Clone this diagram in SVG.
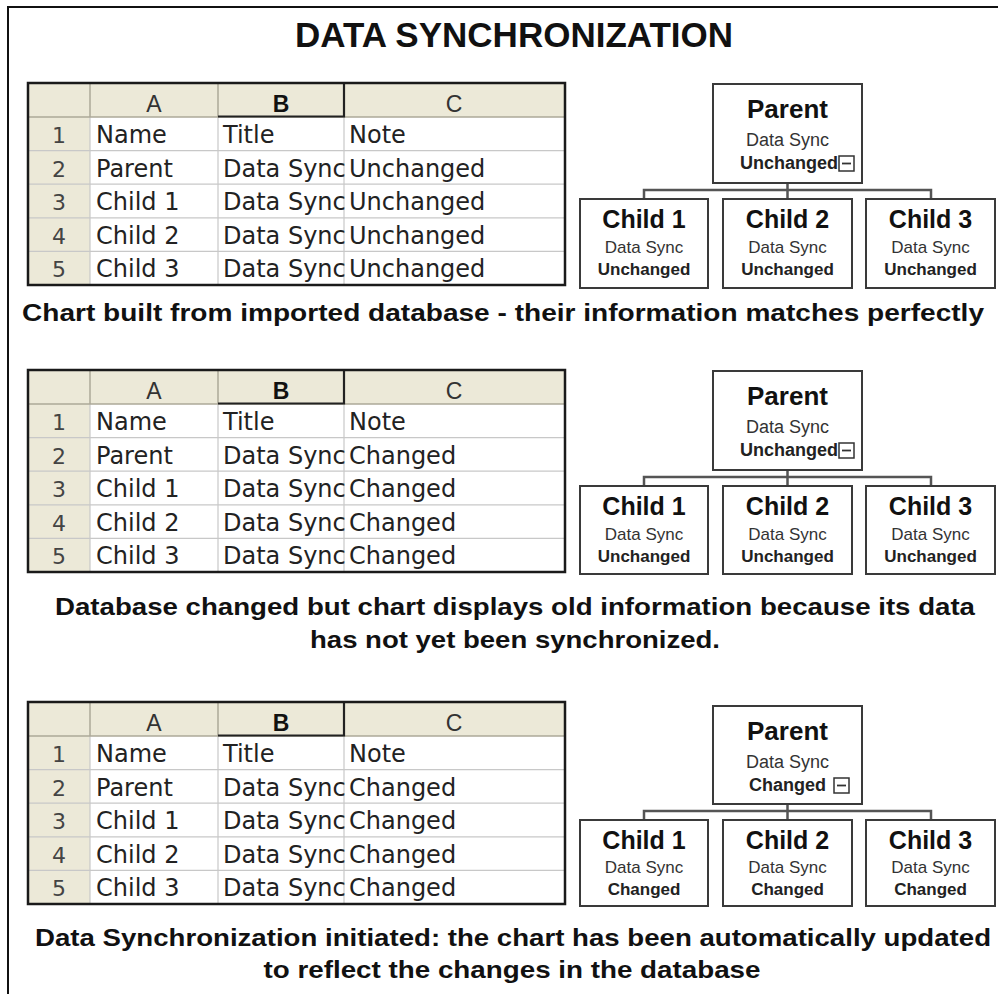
<svg xmlns="http://www.w3.org/2000/svg" xmlns:xlink="http://www.w3.org/1999/xlink" width="998" height="994" viewBox="0 0 998 994">
<style>
.title{font-family:"Liberation Sans",Arial,sans-serif;font-weight:bold;font-size:35px;fill:#111}
.cap{font-family:"Liberation Sans",Arial,sans-serif;font-weight:bold;font-size:24px;fill:#111}
.hdr{font-family:"Liberation Sans",Arial,sans-serif;font-size:23px;fill:#333;text-anchor:middle}
.hdrb{font-family:"Liberation Sans",Arial,sans-serif;font-size:23px;font-weight:bold;fill:#111;text-anchor:middle}
.num{font-family:"DejaVu Sans",sans-serif;font-size:22px;fill:#444;text-anchor:middle}
.cell{font-family:"DejaVu Sans",sans-serif;font-size:24px;fill:#222}
.pname{font-family:"Liberation Sans",Arial,sans-serif;font-weight:bold;font-size:26px;fill:#111;text-anchor:middle}
.cname{font-family:"Liberation Sans",Arial,sans-serif;font-weight:bold;font-size:25px;fill:#111;text-anchor:middle}
.ptitle{font-family:"Liberation Sans",Arial,sans-serif;font-size:18px;fill:#333;text-anchor:middle}
.ctitle{font-family:"Liberation Sans",Arial,sans-serif;font-size:17px;fill:#333;text-anchor:middle}
.pnote{font-family:"Liberation Sans",Arial,sans-serif;font-weight:bold;font-size:18px;fill:#222;text-anchor:end}
.cnote{font-family:"Liberation Sans",Arial,sans-serif;font-weight:bold;font-size:17px;fill:#222;text-anchor:middle}
.box{fill:#fff;stroke:#3a3a3a;stroke-width:2}
.conn{fill:none;stroke:#555;stroke-width:2.5}
.icon{fill:#fff;stroke:#333;stroke-width:1.5}
</style>
<defs>
<g id="grid">
  <rect x="28" y="83" width="537" height="202" fill="#fff"/>
  <rect x="28" y="83" width="537" height="34" fill="#ECE9D8"/>
  <rect x="28" y="117" width="62" height="168" fill="#ECE9D8"/>
  <g stroke="#c8c8c8" stroke-width="1.2">
    <line x1="28" y1="150.6" x2="565" y2="150.6"/>
    <line x1="28" y1="184.2" x2="565" y2="184.2"/>
    <line x1="28" y1="217.8" x2="565" y2="217.8"/>
    <line x1="28" y1="251.4" x2="565" y2="251.4"/>
    <line x1="90" y1="117" x2="90" y2="285"/>
    <line x1="218" y1="117" x2="218" y2="285"/>
    <line x1="344" y1="117" x2="344" y2="285"/>
  </g>
  <g stroke="#aca899" stroke-width="1.5">
    <line x1="28" y1="117" x2="565" y2="117"/>
    <line x1="90" y1="83" x2="90" y2="117"/>
    <line x1="218" y1="83" x2="218" y2="117"/>
  </g>
  <path d="M218 116.5H344V83" fill="none" stroke="#222" stroke-width="2.2"/>
  <rect x="28" y="83" width="537" height="202" fill="none" stroke="#1a1a1a" stroke-width="2.5"/>
  <text class="hdr" x="154" y="112">A</text>
  <text class="hdrb" x="281" y="112">B</text>
  <text class="hdr" x="454" y="112">C</text>
  <text class="num" x="59" y="143">1</text>
  <text class="num" x="59" y="177">2</text>
  <text class="num" x="59" y="210">3</text>
  <text class="num" x="59" y="244">4</text>
  <text class="num" x="59" y="277">5</text>
  <text class="cell" x="96" y="143">Name</text>
  <text class="cell" x="96" y="177">Parent</text>
  <text class="cell" x="96" y="210">Child 1</text>
  <text class="cell" x="96" y="244">Child 2</text>
  <text class="cell" x="96" y="277">Child 3</text>
  <text class="cell" x="223" y="143">Title</text>
  <text class="cell" x="223" y="177">Data Sync</text>
  <text class="cell" x="223" y="210">Data Sync</text>
  <text class="cell" x="223" y="244">Data Sync</text>
  <text class="cell" x="223" y="277">Data Sync</text>
  <text class="cell" x="349" y="143">Note</text>
</g>
<g id="minus">
  <rect class="icon" x="0" y="0" width="15" height="15"/>
  <line x1="3" y1="7.5" x2="12" y2="7.5" stroke="#333" stroke-width="1.8"/>
</g>
</defs>

<!-- frame -->
<path d="M8 994V7H998" fill="none" stroke="#111" stroke-width="2"/>

<text class="title" x="514" y="47" text-anchor="middle">DATA SYNCHRONIZATION</text>

<!-- Section 1 -->
<g id="table1">
  <use xlink:href="#grid"/>
  <text class="cell" x="349" y="177">Unchanged</text>
  <text class="cell" x="349" y="210">Unchanged</text>
  <text class="cell" x="349" y="244">Unchanged</text>
  <text class="cell" x="349" y="277">Unchanged</text>
</g>
<g id="connectors1">
  <path class="conn" d="M787.5 183V190M644 199V190H931V199M787.5 190V199"/>
</g>
<g id="parent1">
  <rect class="box" x="713" y="84" width="149" height="99"/>
  <text class="pname" x="787.5" y="118">Parent</text>
  <text class="ptitle" x="787.5" y="146">Data Sync</text>
  <text class="pnote" x="838" y="169">Unchanged</text>
  <use xlink:href="#minus" x="839" y="156"/>
</g>
<g id="child1a">
  <rect class="box" x="580" y="199" width="128" height="89"/>
  <text class="cname" x="644" y="228">Child 1</text>
  <text class="ctitle" x="644" y="253">Data Sync</text>
  <text class="cnote" x="644" y="275">Unchanged</text>
</g>
<g id="child2a">
  <rect class="box" x="723" y="199" width="129" height="89"/>
  <text class="cname" x="787.5" y="228">Child 2</text>
  <text class="ctitle" x="787.5" y="253">Data Sync</text>
  <text class="cnote" x="787.5" y="275">Unchanged</text>
</g>
<g id="child3a">
  <rect class="box" x="866" y="199" width="129" height="89"/>
  <text class="cname" x="930.5" y="228">Child 3</text>
  <text class="ctitle" x="930.5" y="253">Data Sync</text>
  <text class="cnote" x="930.5" y="275">Unchanged</text>
</g>
<text class="cap" x="503" y="321" text-anchor="middle" textLength="962" lengthAdjust="spacingAndGlyphs">Chart built from imported database - their information matches perfectly</text>

<!-- Section 2 -->
<g id="table2" transform="translate(0,287)">
  <use xlink:href="#grid"/>
  <text class="cell" x="349" y="177">Changed</text>
  <text class="cell" x="349" y="210">Changed</text>
  <text class="cell" x="349" y="244">Changed</text>
  <text class="cell" x="349" y="277">Changed</text>
</g>
<g id="connectors2">
  <path class="conn" d="M787.5 470V477M644 486V477H931V486M787.5 477V486"/>
</g>
<g id="parent2">
  <rect class="box" x="713" y="371" width="149" height="99"/>
  <text class="pname" x="787.5" y="405">Parent</text>
  <text class="ptitle" x="787.5" y="433">Data Sync</text>
  <text class="pnote" x="838" y="456">Unchanged</text>
  <use xlink:href="#minus" x="839" y="443"/>
</g>
<g id="child1b">
  <rect class="box" x="580" y="486" width="128" height="88"/>
  <text class="cname" x="644" y="515">Child 1</text>
  <text class="ctitle" x="644" y="540">Data Sync</text>
  <text class="cnote" x="644" y="562">Unchanged</text>
</g>
<g id="child2b">
  <rect class="box" x="723" y="486" width="129" height="88"/>
  <text class="cname" x="787.5" y="515">Child 2</text>
  <text class="ctitle" x="787.5" y="540">Data Sync</text>
  <text class="cnote" x="787.5" y="562">Unchanged</text>
</g>
<g id="child3b">
  <rect class="box" x="866" y="486" width="129" height="88"/>
  <text class="cname" x="930.5" y="515">Child 3</text>
  <text class="ctitle" x="930.5" y="540">Data Sync</text>
  <text class="cnote" x="930.5" y="562">Unchanged</text>
</g>
<text class="cap" x="515" y="615" text-anchor="middle" textLength="920" lengthAdjust="spacingAndGlyphs">Database changed but chart displays old information because its data</text>
<text class="cap" x="515" y="648" text-anchor="middle" textLength="410" lengthAdjust="spacingAndGlyphs">has not yet been synchronized.</text>

<!-- Section 3 -->
<g id="table3" transform="translate(0,619)">
  <use xlink:href="#grid"/>
  <text class="cell" x="349" y="177">Changed</text>
  <text class="cell" x="349" y="210">Changed</text>
  <text class="cell" x="349" y="244">Changed</text>
  <text class="cell" x="349" y="277">Changed</text>
</g>
<g id="connectors3">
  <path class="conn" d="M787.5 804V811M644 820V811H931V820M787.5 811V820"/>
</g>
<g id="parent3">
  <rect class="box" x="713" y="706" width="149" height="98"/>
  <text class="pname" x="787.5" y="740">Parent</text>
  <text class="ptitle" x="787.5" y="768">Data Sync</text>
  <text class="pnote" x="826" y="791">Changed</text>
  <use xlink:href="#minus" x="834" y="778"/>
</g>
<g id="child1c">
  <rect class="box" x="580" y="820" width="128" height="86"/>
  <text class="cname" x="644" y="849">Child 1</text>
  <text class="ctitle" x="644" y="873">Data Sync</text>
  <text class="cnote" x="644" y="895">Changed</text>
</g>
<g id="child2c">
  <rect class="box" x="723" y="820" width="129" height="86"/>
  <text class="cname" x="787.5" y="849">Child 2</text>
  <text class="ctitle" x="787.5" y="873">Data Sync</text>
  <text class="cnote" x="787.5" y="895">Changed</text>
</g>
<g id="child3c">
  <rect class="box" x="866" y="820" width="129" height="86"/>
  <text class="cname" x="930.5" y="849">Child 3</text>
  <text class="ctitle" x="930.5" y="873">Data Sync</text>
  <text class="cnote" x="930.5" y="895">Changed</text>
</g>
<text class="cap" x="513" y="946" text-anchor="middle" textLength="956" lengthAdjust="spacingAndGlyphs">Data Synchronization initiated: the chart has been automatically updated</text>
<text class="cap" x="512" y="978" text-anchor="middle" textLength="497" lengthAdjust="spacingAndGlyphs">to reflect the changes in the database</text>
</svg>
